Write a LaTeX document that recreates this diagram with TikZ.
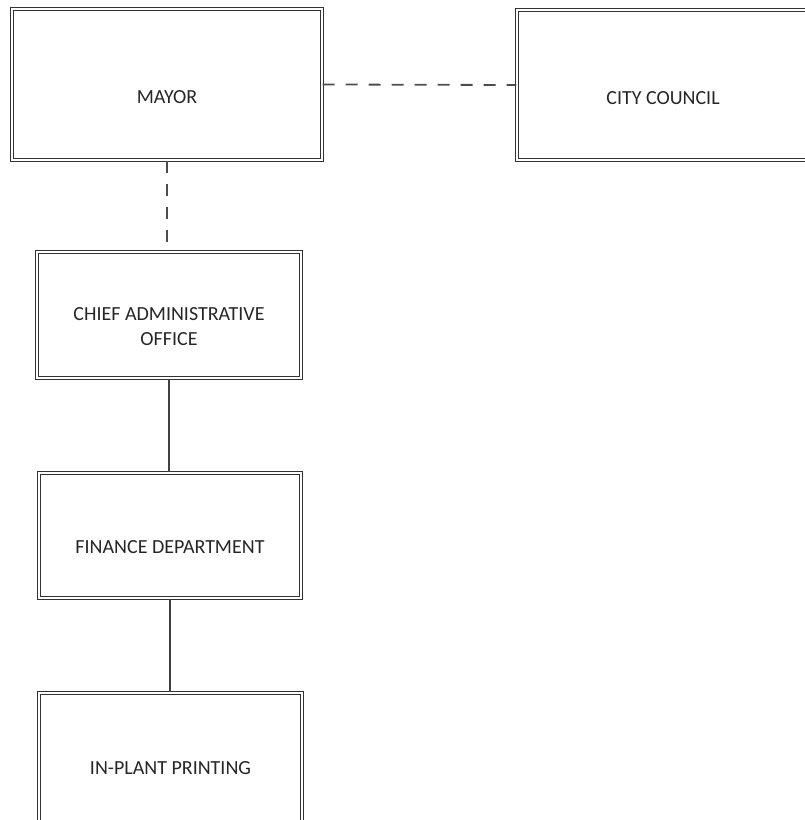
\documentclass[tikz,border=0pt]{standalone}
\usepackage{fontspec}
\setmainfont{Carlito}

\begin{document}
\begin{tikzpicture}[x=1pt,y=-1pt,
    office/.style={rectangle, draw=black!80, double=white, double distance=2pt, line width=1.4pt, inner sep=0pt},
    officename/.style={text=black!85, inner sep=0pt, align=center, font=\fontsize{20}{24.5}\selectfont},
    link/.style={draw=black!75, line width=1.2pt},
    dashedlink/.style={link, line width=1.8pt, draw=black!70, dash pattern=on 12pt off 11pt}]
        \useasboundingbox (0,0) rectangle (805,820);
        % boxes
        \node[office, minimum width=310pt, minimum height=151pt] (mayor) at (167,84.5) {};
        \node[office, minimum width=292pt, minimum height=150pt] (council) at (663,85) {};
        \node[office, minimum width=264pt, minimum height=126pt] (chief) at (169,315) {};
        \node[office, minimum width=262pt, minimum height=125pt] (finance) at (170,535.5) {};
        \node[office, minimum width=263pt, minimum height=142pt] (printing) at (170.5,764) {};
        % names
        \node[officename] (mayorname) at (167,97) {MAYOR};
        \node[officename] (councilname) at (663,98) {CITY COUNCIL};
        \node[officename] (chiefname) at (169,326.5) {CHIEF ADMINISTRATIVE\\OFFICE};
        \node[officename] (financename) at (170,547) {FINANCE DEPARTMENT};
        \node[officename] (printingname) at (170.5,768) {IN-PLANT PRINTING};
        % lines
        \draw[dashedlink] (mayor.east) -- (council.west);
        \draw[dashedlink] (mayor.south) -- (mayor.south |- chief.north);
        \draw[link] (chief.south) -- (chief.south |- finance.north);
        \draw[link] (finance.south) -- (finance.south |- printing.north);
    \end{tikzpicture}
\end{document}
